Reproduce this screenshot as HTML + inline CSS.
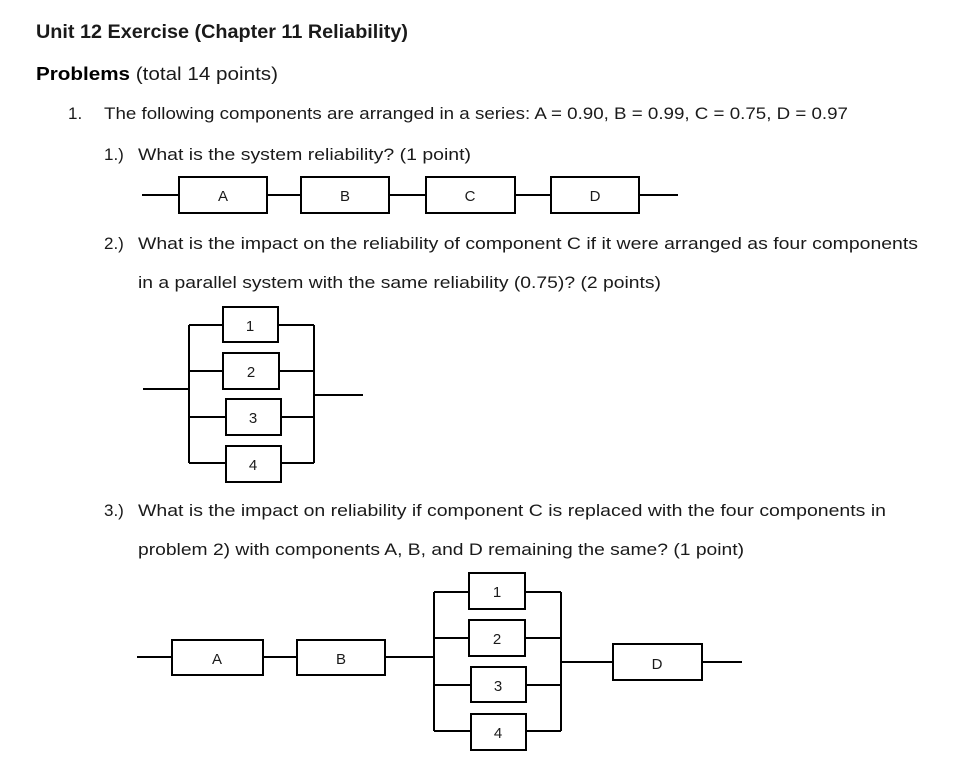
<!DOCTYPE html>
<html><head><meta charset="utf-8"><style>
html,body{margin:0;padding:0;background:#fff;}
svg{display:block;}
text{font-family:"Liberation Sans",sans-serif;fill:#1a1a1a;}
.t{font-size:17px;}
.l{font-size:15px;text-anchor:middle;}
.k{stroke:#000;stroke-width:2;fill:none;}
.b{stroke:#000;stroke-width:2;fill:#fff;}
</style></head><body>
<svg width="969" height="758" viewBox="0 0 969 758" xmlns="http://www.w3.org/2000/svg">
<text x="36" y="38" font-size="19" font-weight="bold" fill="#000" textLength="372" lengthAdjust="spacingAndGlyphs">Unit 12 Exercise (Chapter 11 Reliability)</text>
<text x="36" y="80" font-size="18" textLength="242" lengthAdjust="spacingAndGlyphs"><tspan font-weight="bold" fill="#000">Problems</tspan> (total 14 points)</text>
<text class="t" x="68" y="119">1.</text>
<text class="t" x="104" y="119" textLength="744" lengthAdjust="spacingAndGlyphs">The following components are arranged in a series: A = 0.90, B = 0.99, C = 0.75, D = 0.97</text>
<text class="t" x="104" y="160">1.)</text>
<text class="t" x="138" y="160" textLength="333" lengthAdjust="spacingAndGlyphs">What is the system reliability? (1 point)</text>

<line class="k" x1="142" y1="195" x2="678" y2="195"/>
<rect class="b" x="179" y="177" width="88" height="36"/>
<rect class="b" x="301" y="177" width="88" height="36"/>
<rect class="b" x="426" y="177" width="89" height="36"/>
<rect class="b" x="551" y="177" width="88" height="36"/>
<text class="l" x="223" y="201">A</text>
<text class="l" x="345" y="201">B</text>
<text class="l" x="470" y="201">C</text>
<text class="l" x="595" y="201">D</text>

<text class="t" x="104" y="249">2.)</text>
<text class="t" x="138" y="249" textLength="780" lengthAdjust="spacingAndGlyphs">What is the impact on the reliability of component C if it were arranged as four components</text>
<text class="t" x="138" y="288" textLength="523" lengthAdjust="spacingAndGlyphs">in a parallel system with the same reliability (0.75)? (2 points)</text>

<line class="k" x1="143" y1="389" x2="189" y2="389"/>
<line class="k" x1="314" y1="395" x2="363" y2="395"/>
<line class="k" x1="189" y1="325" x2="189" y2="463"/>
<line class="k" x1="314" y1="325" x2="314" y2="463"/>
<line class="k" x1="189" y1="325" x2="314" y2="325"/>
<line class="k" x1="189" y1="371" x2="314" y2="371"/>
<line class="k" x1="189" y1="417" x2="314" y2="417"/>
<line class="k" x1="189" y1="463" x2="314" y2="463"/>
<rect class="b" x="223" y="307" width="55" height="35"/>
<rect class="b" x="223" y="353" width="56" height="36"/>
<rect class="b" x="226" y="399" width="55" height="36"/>
<rect class="b" x="226" y="446" width="55" height="36"/>
<text class="l" x="250" y="331">1</text>
<text class="l" x="251" y="377">2</text>
<text class="l" x="253" y="423">3</text>
<text class="l" x="253" y="470">4</text>

<text class="t" x="104" y="516">3.)</text>
<text class="t" x="138" y="516" textLength="748" lengthAdjust="spacingAndGlyphs">What is the impact on reliability if component C is replaced with the four components in</text>
<text class="t" x="138" y="555" textLength="606" lengthAdjust="spacingAndGlyphs">problem 2) with components A, B, and D remaining the same? (1 point)</text>

<line class="k" x1="137" y1="657" x2="434" y2="657"/>
<line class="k" x1="561" y1="662" x2="742" y2="662"/>
<line class="k" x1="434" y1="592" x2="434" y2="731"/>
<line class="k" x1="561" y1="592" x2="561" y2="731"/>
<line class="k" x1="434" y1="592" x2="561" y2="592"/>
<line class="k" x1="434" y1="638" x2="561" y2="638"/>
<line class="k" x1="434" y1="685" x2="561" y2="685"/>
<line class="k" x1="434" y1="731" x2="561" y2="731"/>
<rect class="b" x="172" y="640" width="91" height="35"/>
<rect class="b" x="297" y="640" width="88" height="35"/>
<rect class="b" x="613" y="644" width="89" height="36"/>
<rect class="b" x="469" y="573" width="56" height="36"/>
<rect class="b" x="469" y="620" width="56" height="36"/>
<rect class="b" x="471" y="667" width="55" height="35"/>
<rect class="b" x="471" y="714" width="55" height="36"/>
<text class="l" x="217" y="664">A</text>
<text class="l" x="341" y="664">B</text>
<text class="l" x="657" y="669">D</text>
<text class="l" x="497" y="597">1</text>
<text class="l" x="497" y="644">2</text>
<text class="l" x="498" y="691">3</text>
<text class="l" x="498" y="738">4</text>
</svg>
</body></html>
